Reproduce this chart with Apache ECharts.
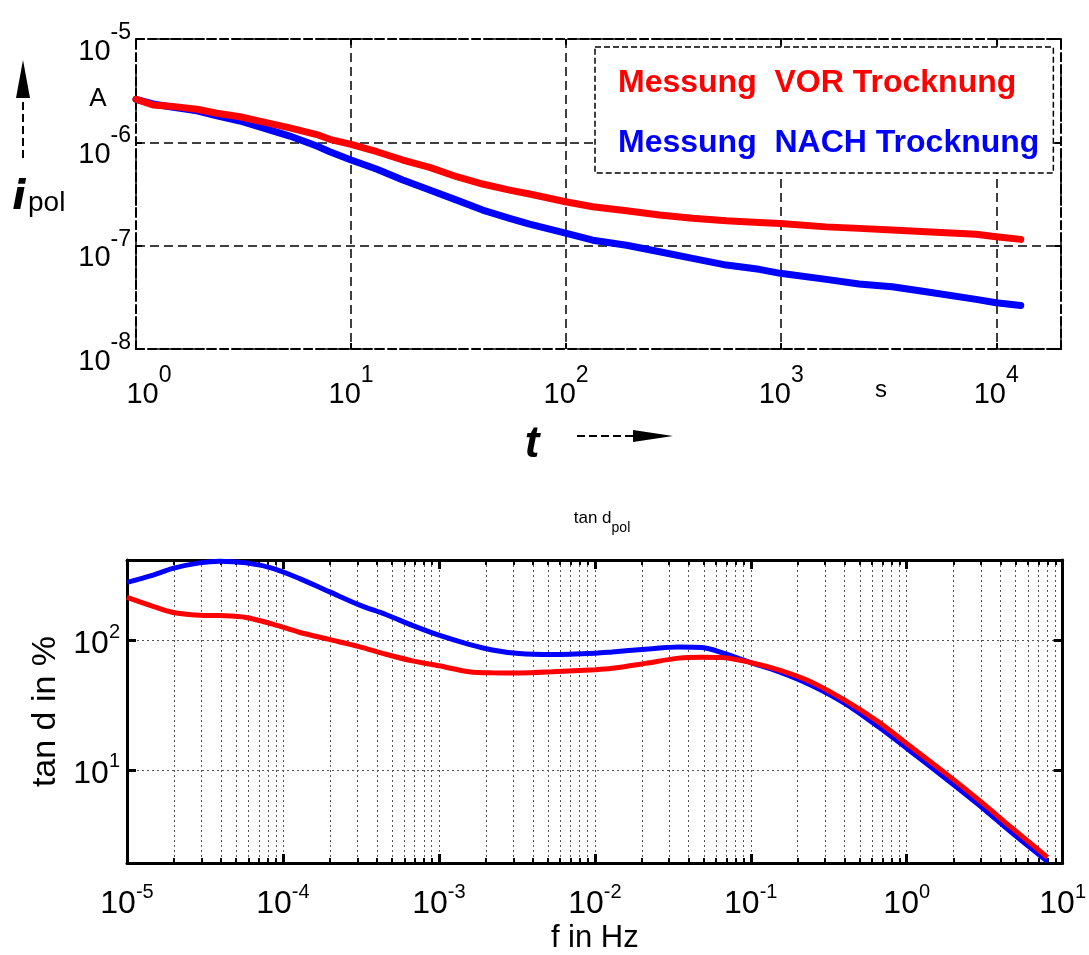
<!DOCTYPE html>
<html>
<head>
<meta charset="utf-8">
<title>Polarisationsstrom und tan d</title>
<script src="https://cdn.jsdelivr.net/npm/echarts@6/dist/echarts.min.js"></script>
<style>
  html, body { margin: 0; padding: 0; background: #fff; }
  #chart { width: 1089px; height: 955px; }
</style>
</head>
<body>
<div id="chart"></div>
<script>
// --- oben: Polarisationsstrom i_pol ueber t (s, A) ---
const timeS = [1.0, 1.2, 1.44, 1.92, 2.38, 3.04, 3.89, 5.19, 6.93, 7.96, 10, 13.2, 17.4, 23.2, 31.0,
  40.9, 54.6, 67.6, 99.4, 133, 191, 272, 387, 556, 790, 990, 1620, 2300, 3280, 4720, 8060, 9980, 13000];
const ipolVor = [2.61e-6, 2.30e-6, 2.24e-6, 2.09e-6, 1.91e-6, 1.77e-6, 1.58e-6, 1.38e-6, 1.19e-6, 1.07e-6,
  9.57e-7, 8.11e-7, 6.74e-7, 5.73e-7, 4.65e-7, 3.95e-7, 3.45e-7, 3.16e-7, 2.66e-7, 2.38e-7, 2.18e-7,
  1.98e-7, 1.84e-7, 1.74e-7, 1.68e-7, 1.64e-7, 1.52e-7, 1.47e-7, 1.42e-7, 1.36e-7, 1.29e-7, 1.22e-7, 1.15e-7];
const ipolNach = [2.61e-6, 2.35e-6, 2.21e-6, 2.02e-6, 1.80e-6, 1.61e-6, 1.38e-6, 1.15e-6, 9.20e-7, 8.11e-7,
  6.74e-7, 5.48e-7, 4.32e-7, 3.45e-7, 2.76e-7, 2.21e-7, 1.84e-7, 1.62e-7, 1.32e-7, 1.13e-7, 1.01e-7,
  8.73e-8, 7.53e-8, 6.49e-8, 5.90e-8, 5.40e-8, 4.72e-8, 4.25e-8, 4.00e-8, 3.58e-8, 3.02e-8, 2.80e-8, 2.64e-8];

// --- unten: tan d_pol ueber f (Hz, %) ---
const freqHz = [1.0e-5, 1.47e-5, 1.97e-5, 2.92e-5, 3.92e-5, 5.81e-5, 8.6e-5, 1.27e-4, 1.98e-4, 3.08e-4,
  4.57e-4, 6.76e-4, 1.0e-3, 1.56e-3, 2.2e-3, 3.26e-3, 5.33e-3, 1.01e-2, 1.29e-2, 2.11e-2, 3.45e-2,
  4.87e-2, 6.53e-2, 9.93e-2, 0.151, 0.246, 0.403, 0.658, 0.998, 1.76, 2.87, 4.69, 8.0];
const tanVor = [216, 184, 165, 157, 156, 151, 134, 116, 102, 89.8, 78.3, 69.6, 63.8, 57.4, 56.3, 56.2,
  57.3, 59.5, 61.0, 66.6, 73.1, 74.3, 74.0, 67.7, 59.2, 47.6, 34.4, 23.5, 16.0, 9.46, 5.90, 3.58, 2.1];
const tanNach = [282, 321, 362, 399, 411, 399, 362, 303, 239, 189, 159, 131, 110, 93.5, 84.6, 79.4,
  78.0, 79.8, 81.6, 85.7, 89.2, 88.3, 80.7, 67.7, 57.4, 44.9, 32.5, 21.5, 14.7, 8.65, 5.41, 3.28, 1.95];

const nameVor = 'Messung  VOR Trocknung';
const nameNach = 'Messung  NACH Trocknung';

const FONT = "'Liberation Sans', Arial, Helvetica, sans-serif";
const dash = [8, 4];

function powLabel(v) {
  const e = Math.log10(v);
  const r = Math.round(e);
  if (Math.abs(e - r) > 1e-6) return '';
  return '{b|10}{e|' + r + '}';
}

// 10^0 auf der t-Achse steht etwas nach rechts versetzt
function timeLabel(v) {
  const s = powLabel(v);
  if (s && Math.abs(v - 1) < 1e-9) return '{p|}' + s;
  return s;
}

const richTop = {
  b: { fontSize: 29, lineHeight: 30, fontFamily: FONT, color: '#000', verticalAlign: 'bottom' },
  e: { fontSize: 23, lineHeight: 23, fontFamily: FONT, color: '#000', verticalAlign: 'bottom', padding: [0, 0, 22, 0] },
  p: { width: 26, lineHeight: 30 }
};
const richBottom = {
  b: { fontSize: 32, lineHeight: 34, fontFamily: FONT, color: '#000', verticalAlign: 'bottom' },
  e: { fontSize: 20, lineHeight: 20, fontFamily: FONT, color: '#000', verticalAlign: 'bottom', padding: [0, 0, 18, 0] }
};

function pairs(xs, ys) {
  return xs.map((x, i) => [x, ys[i]]);
}

const chart = echarts.init(document.getElementById('chart'));

const dashedLine = { show: true, onZero: false, lineStyle: { color: '#000', width: 2, type: dash } };
const solidLine = { show: true, onZero: false, lineStyle: { color: '#000', width: 3 } };
const dotted = { show: true, lineStyle: { color: '#555', width: 1, type: [2, 3] } };

const option = {
  backgroundColor: '#fff',
  animation: false,
  title: {
    text: '{a|tan d}{s|pol}',
    left: 597,
    top: 505,
    textAlign: 'center',
    textStyle: {
      fontWeight: 'normal',
      rich: {
        a: { fontSize: 17, fontFamily: FONT, fontWeight: 'normal', color: '#000', verticalAlign: 'bottom', padding: [0, 0, 8, 0] },
        s: { fontSize: 14, fontFamily: FONT, fontWeight: 'normal', color: '#000', verticalAlign: 'bottom' }
      }
    }
  },
  legend: {
    data: [
      { name: nameVor, textStyle: { color: '#ff0000' } },
      { name: nameNach, textStyle: { color: '#0000ff' } }
    ],
    orient: 'vertical',
    left: 595,
    top: 47,
    itemWidth: 0,
    itemHeight: 0,
    itemGap: 28,
    padding: [20, 14, 14, 17],
    backgroundColor: '#fff',
    borderColor: '#000',
    borderWidth: 1.5,
    borderType: [6, 3],
    selectedMode: false,
    textStyle: { fontFamily: FONT, fontSize: 32, fontWeight: 'bold', lineHeight: 32 }
  },
  grid: [
    { left: 136, top: 39, width: 925, height: 310 },
    { left: 127, top: 560, width: 938, height: 307 }
  ],
  xAxis: [
    {
      gridIndex: 0, type: 'log', logBase: 10, min: 1, max: 2e4, position: 'bottom',
      axisLine: dashedLine,
      axisTick: { show: true, inside: true, length: 6, lineStyle: { color: '#000', width: 2 } },
      axisLabel: { show: true, margin: 30, formatter: timeLabel, rich: richTop, color: '#000', showMinLabel: true, showMaxLabel: true },
      splitLine: { show: true, lineStyle: { color: '#000', width: 1.5, type: [9, 5] } }
    },
    {
      gridIndex: 0, type: 'log', logBase: 10, min: 1, max: 2e4, position: 'top',
      axisLine: dashedLine,
      axisTick: { show: true, inside: true, length: 6, lineStyle: { color: '#000', width: 2 } },
      axisLabel: { show: false },
      splitLine: { show: false }
    },
    {
      gridIndex: 1, type: 'log', logBase: 10, min: 1e-5, max: 10, position: 'bottom',
      axisLine: solidLine,
      axisTick: { show: true, inside: true, length: 9, lineStyle: { color: '#000', width: 3 } },
      minorTick: { show: true, splitNumber: 9, length: 5, lineStyle: { color: '#000', width: 2 } },
      axisLabel: { show: true, margin: 23, formatter: powLabel, rich: richBottom, color: '#000', showMinLabel: true, showMaxLabel: true },
      splitLine: dotted,
      minorSplitLine: dotted,
      name: 'f in Hz', nameLocation: 'middle', nameGap: 60,
      nameTextStyle: { fontFamily: FONT, fontSize: 31, color: '#000' }
    },
    {
      gridIndex: 1, type: 'log', logBase: 10, min: 1e-5, max: 10, position: 'top',
      axisLine: solidLine,
      axisTick: { show: true, inside: true, length: 9, lineStyle: { color: '#000', width: 3 } },
      minorTick: { show: true, splitNumber: 9, length: 5, lineStyle: { color: '#000', width: 2 } },
      axisLabel: { show: false },
      splitLine: { show: false }
    }
  ],
  yAxis: [
    {
      gridIndex: 0, type: 'log', logBase: 10, min: 1e-8, max: 1e-5, position: 'left',
      axisLine: dashedLine,
      axisTick: { show: true, inside: true, length: 6, lineStyle: { color: '#000', width: 2 } },
      axisLabel: { show: true, margin: 5, formatter: powLabel, rich: richTop, color: '#000', padding: [24, 0, 0, 0], showMinLabel: true, showMaxLabel: true },
      splitLine: { show: true, lineStyle: { color: '#000', width: 1.5, type: [9, 5] } }
    },
    {
      gridIndex: 0, type: 'log', logBase: 10, min: 1e-8, max: 1e-5, position: 'right',
      axisLine: dashedLine,
      axisTick: { show: true, inside: true, length: 6, lineStyle: { color: '#000', width: 2 } },
      axisLabel: { show: false },
      splitLine: { show: false }
    },
    {
      gridIndex: 1, type: 'log', logBase: 10, min: 1.9, max: 420, position: 'left',
      axisLine: solidLine,
      axisTick: { show: true, inside: true, length: 9, lineStyle: { color: '#000', width: 3 } },
      axisLabel: { show: true, margin: 7, formatter: powLabel, rich: richBottom, color: '#000', padding: [6, 0, 0, 0] },
      splitLine: dotted,
      name: 'tan d in %', nameLocation: 'middle', nameGap: 55, nameRotate: 90,
      nameTextStyle: { fontFamily: FONT, fontSize: 34, color: '#000' }
    },
    {
      gridIndex: 1, type: 'log', logBase: 10, min: 1.9, max: 420, position: 'right',
      axisLine: solidLine,
      axisTick: { show: true, inside: true, length: 9, lineStyle: { color: '#000', width: 3 } },
      axisLabel: { show: false },
      splitLine: { show: false }
    }
  ],
  series: [
    {
      name: nameNach, type: 'line', xAxisIndex: 0, yAxisIndex: 0,
      data: pairs(timeS, ipolNach), showSymbol: false, color: '#0000ff',
      lineStyle: { color: '#0000ff', width: 7, cap: 'round', join: 'round' }
    },
    {
      name: nameVor, type: 'line', xAxisIndex: 0, yAxisIndex: 0,
      data: pairs(timeS, ipolVor), showSymbol: false, color: '#ff0000',
      lineStyle: { color: '#ff0000', width: 7, cap: 'round', join: 'round' }
    },
    {
      name: 'tan d NACH', type: 'line', xAxisIndex: 2, yAxisIndex: 2,
      data: pairs(freqHz, tanNach), showSymbol: false, smooth: 0.3, color: '#0000ff',
      lineStyle: { color: '#0000ff', width: 5 }
    },
    {
      name: 'tan d VOR', type: 'line', xAxisIndex: 2, yAxisIndex: 2,
      data: pairs(freqHz, tanVor), showSymbol: false, smooth: 0.3, color: '#ff0000',
      lineStyle: { color: '#ff0000', width: 5 }
    }
  ],
  graphic: [
    // Pfeil nach oben an der y-Achse
    { type: 'line', shape: { x1: 23, y1: 158, x2: 23, y2: 96 }, style: { stroke: '#000', lineWidth: 2, lineDash: dash } },
    { type: 'polygon', shape: { points: [[16, 98], [30, 98], [23, 60]] }, style: { fill: '#000' } },
    { type: 'text', x: 12, y: 199, style: { text: 'i', fontFamily: "'DejaVu Sans', sans-serif", fontSize: 40, fontWeight: 'bold', fontStyle: 'italic', fill: '#000', align: 'left', verticalAlign: 'middle' } },
    { type: 'text', x: 28, y: 203, style: { text: 'pol', fontFamily: FONT, fontSize: 28, fill: '#000', align: 'left', verticalAlign: 'middle' } },
    { type: 'text', x: 98, y: 99, style: { text: 'A', fontFamily: FONT, fontSize: 26, fill: '#000', align: 'center', verticalAlign: 'middle' } },
    // t mit Pfeil nach rechts
    { type: 'text', x: 532, y: 445, style: { text: 't', fontFamily: FONT, fontSize: 44, fontWeight: 'bold', fontStyle: 'italic', fill: '#000', align: 'center', verticalAlign: 'middle' } },
    { type: 'line', shape: { x1: 577, y1: 436, x2: 638, y2: 436 }, style: { stroke: '#000', lineWidth: 2, lineDash: dash } },
    { type: 'polygon', shape: { points: [[633, 430], [633, 442], [673, 436]] }, style: { fill: '#000' } },
    { type: 'text', x: 881, y: 390, style: { text: 's', fontFamily: FONT, fontSize: 24, fill: '#000', align: 'center', verticalAlign: 'middle' } }
  ]
};

chart.setOption(option);
</script>
</body>
</html>
